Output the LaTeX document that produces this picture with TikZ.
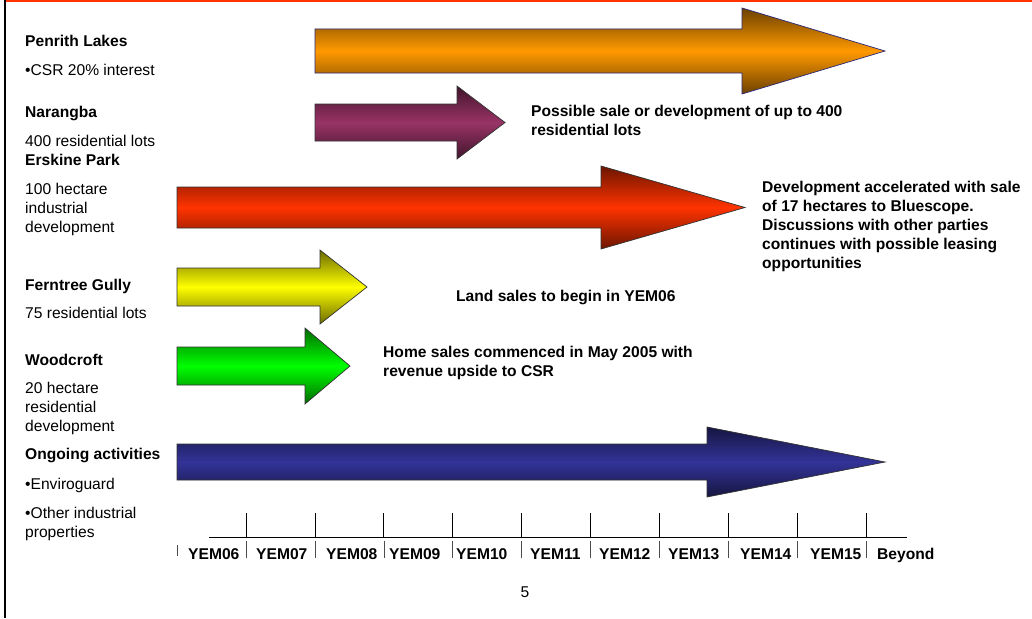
\documentclass[tikz,border=0pt]{standalone}
\usepackage{fontspec}
\setmainfont{Liberation Sans}
\definecolor{cOrange}{HTML}{FF9900}
\definecolor{cPurple}{HTML}{993366}
\definecolor{cRed}{HTML}{FF3300}
\definecolor{cYellow}{HTML}{FFFF00}
\definecolor{cGreen}{HTML}{00FF00}
\definecolor{cBlue}{HTML}{333399}
\definecolor{cEdge}{HTML}{333333}
\newcommand\txtfont{\fontsize{15.6pt}{19pt}\selectfont}
\begin{document}
\begin{tikzpicture}[x=1pt,y=-1pt,
  lbl/.style={anchor=base west, inner sep=0pt, font=\txtfont},
  lblb/.style={lbl, font=\txtfont\bfseries},
  note/.style={anchor=north west, inner sep=0pt, align=left, font=\txtfont\bfseries},
  yr/.style={anchor=base west, inner sep=0pt, font=\txtfont\bfseries},
  barrow/.style={draw=cEdge, line width=0.7pt, line join=miter,
     top color=#1!42!black, bottom color=#1!42!black, middle color=#1},
  tick/.style={line width=0.8pt, black},
  ticklow/.style={line width=0.6pt, black!70}
]
\useasboundingbox (0,0) rectangle (1032,618);
\fill[white] (0,0) rectangle (1032,618);
% frame lines
\draw[cRed, line width=2pt] (5,1) -- (1032,1);
\draw[black, line width=2.5pt] (5,0) -- (5,618);

% block arrows
\path[barrow=cOrange, draw=cBlue!80!black] (315,29) -- (742,29) -- (742,8) -- (885,51) -- (742,94) -- (742,73) -- (315,73) -- cycle;
\path[barrow=cPurple] (315,104) -- (457,104) -- (457,86) -- (505,122.5) -- (457,159) -- (457,141) -- (315,141) -- cycle;
\path[barrow=cRed] (177,187) -- (601,187) -- (601,166) -- (745,207.5) -- (601,249) -- (601,228) -- (177,228) -- cycle;
\path[barrow=cYellow] (177,268) -- (320,268) -- (320,250) -- (367,287) -- (320,324) -- (320,306) -- (177,306) -- cycle;
\path[barrow=cGreen] (177,347) -- (305,347) -- (305,328) -- (350,366) -- (305,404) -- (305,385) -- (177,385) -- cycle;
\path[barrow=cBlue] (177,444) -- (707,444) -- (707,427) -- (885,462) -- (707,497) -- (707,480) -- (177,480) -- cycle;

% left labels
\node[lblb] (pl) at (25,47) {Penrith Lakes};
\node[lbl] (pl1) at (25,75) {•CSR 20\% interest};
\node[lblb] (na) at (25,117) {Narangba};
\node[lbl] (na1) at (25,146) {400 residential lots};
\node[lblb] (ep) at (25,165) {Erskine Park};
\node[lbl] (ep1) at (25,194) {100 hectare};
\node[lbl] (ep2) at (25,213) {industrial};
\node[lbl] (ep3) at (25,232) {development};
\node[lblb] (fg) at (25,290) {Ferntree Gully};
\node[lbl] (fg1) at (25,318) {75 residential lots};
\node[lblb] (wc) at (25,365) {Woodcroft};
\node[lbl] (wc1) at (25,393) {20 hectare};
\node[lbl] (wc2) at (25,412) {residential};
\node[lbl] (wc3) at (25,431) {development};
\node[lblb] (oa) at (25,459) {Ongoing activities};
\node[lbl] (oa1) at (25,489) {•Enviroguard};
\node[lbl] (oa2) at (25,518) {•Other industrial};
\node[lbl] (oa3) at (25,537) {properties};

% right notes
\node[note] (n1) at (531,104.5) {Possible sale or development of up to 400\\residential lots};
\node[note] (n2) at (762,181) {Development accelerated with sale\\of 17 hectares to Bluescope.\\Discussions with other parties\\continues with possible leasing\\opportunities};
\node[note] (n3) at (456,289.5) {Land sales to begin in YEM06};
\node[note] (n4) at (383,345.5) {Home sales commenced in May 2005 with\\revenue upside to CSR};

% timeline
\draw[tick] (209,537) -- (907,537);
\foreach \i in {0,...,9} {
  \draw[tick] ({246+68.9*\i},513) -- ({246+68.9*\i},537);
  \draw[ticklow] ({246+68.9*\i},541) -- ({246+68.9*\i},558);
}
\draw[ticklow] (177,545) -- (177,556);
\node[yr] (y06) at (188,559) {YEM06};
\node[yr] (y07) at (256,559) {YEM07};
\node[yr] (y08) at (326,559) {YEM08};
\node[yr] (y09) at (389,559) {YEM09};
\node[yr] (y10) at (456,559) {YEM10};
\node[yr] (y11) at (530,559) {YEM11};
\node[yr] (y12) at (599,559) {YEM12};
\node[yr] (y13) at (668,559) {YEM13};
\node[yr] (y14) at (740,559) {YEM14};
\node[yr] (y15) at (810,559) {YEM15};
\node[yr] (yb) at (877,559) {Beyond};

\node[lbl, anchor=base] (pg) at (525,597) {5};
\end{tikzpicture}
\end{document}
